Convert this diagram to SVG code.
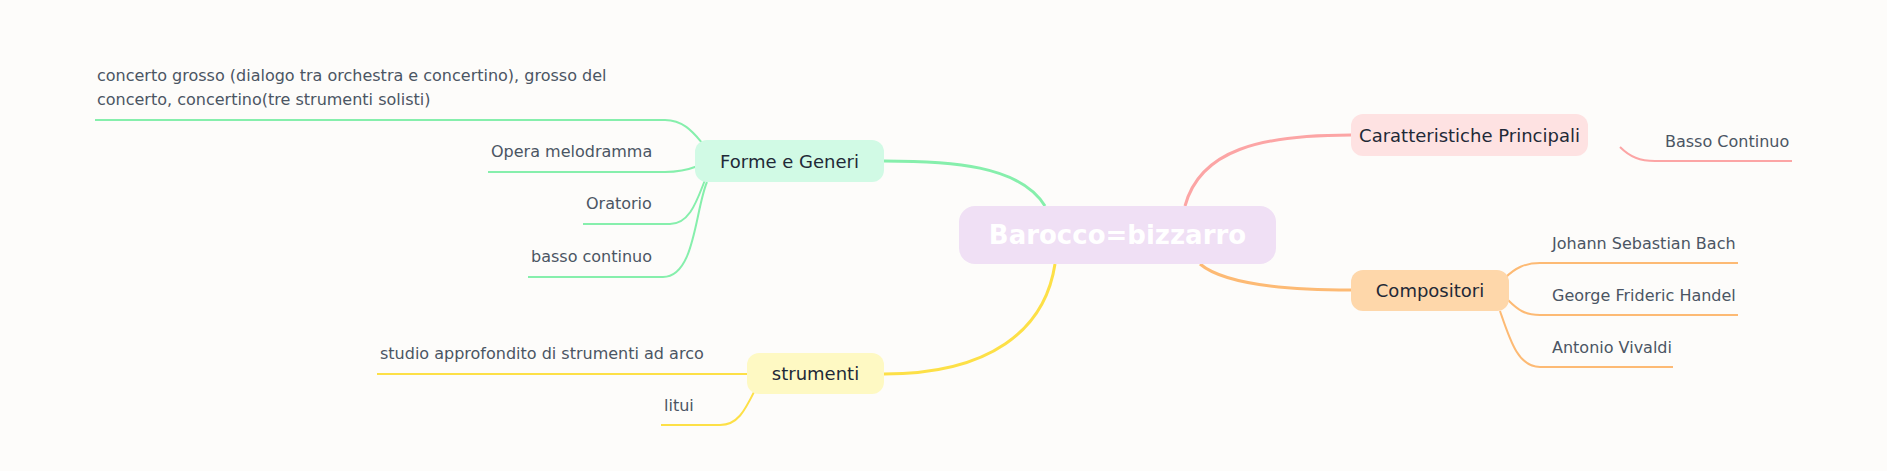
<svg xmlns="http://www.w3.org/2000/svg" width="1887" height="471" viewBox="0 0 1887 471">
<style>
.leaf{font-family:"DejaVu Sans",sans-serif;font-size:16px;fill:#4b5563}
.nt{font-family:"DejaVu Sans",sans-serif;font-size:18px;fill:#1f2937;text-anchor:middle}
.c{fill:none;stroke-width:2}
.g{stroke:#86efac}.r{stroke:#fca5a5}.o{stroke:#fdba74}.y{stroke:#fde047}
</style>
<rect width="1887" height="471" fill="#fdfcfa"/>
<g id="connectors">
<path class="c g" d="M1045 206 C1020 165 950 161 884 161" style="stroke-width:3"/>
<path class="c r" d="M1185 206 C1200 150 1260 135 1351 135" style="stroke-width:3"/>
<path class="c o" d="M1200 264 C1225 285 1290 290 1351 290" style="stroke-width:3"/>
<path class="c y" d="M1055 264 C1045 330 990 374 884 374" style="stroke-width:3"/>
<path class="c g" d="M95 120 H665 C685 120 695 135 704 145"/>
<path class="c g" d="M488 172 H665 C680 172 690 169 698 166"/>
<path class="c g" d="M583 224 H670 C690 224 697 200 705 180"/>
<path class="c g" d="M528 277 H663 C695 277 695 210 707 182"/>
<path class="c r" d="M1620 147 C1630 157 1640 161 1655 161 H1792"/>
<path class="c o" d="M1505 278 C1515 268 1525 263 1540 263 H1738"/>
<path class="c o" d="M1508 300 C1518 310 1525 315 1540 315 H1738"/>
<path class="c o" d="M1500 311 C1510 340 1518 367 1540 367 H1673"/>
<path class="c y" d="M377 374 H747"/>
<path class="c y" d="M661 425 H720 C738 425 745 410 755 390"/>
</g>
<g id="central"><rect x="959" y="206" width="317" height="58" rx="16" fill="#f0e0f5"/><text x="1117.5" y="244" text-anchor="middle" font-family="DejaVu Sans,sans-serif" font-size="26" font-weight="bold" fill="#fff">Barocco=bizzarro</text></g>
<g id="forme"><rect x="695" y="140" width="189" height="42" rx="12" fill="#d1fae5"/><text class="nt" x="789.5" y="168">Forme e Generi</text></g>
<g id="caratt"><rect x="1351" y="114" width="237" height="42" rx="12" fill="#fee2e2"/><text class="nt" x="1469.5" y="142">Caratteristiche Principali</text></g>
<g id="compositori"><rect x="1351" y="270" width="158" height="41" rx="12" fill="#fed7aa"/><text class="nt" x="1430" y="297">Compositori</text></g>
<g id="strumenti"><rect x="747" y="353" width="137" height="41" rx="12" fill="#fef9c3"/><text class="nt" x="815.5" y="380">strumenti</text></g>
<g id="leaves">
<text class="leaf" x="97" y="81">concerto grosso (dialogo tra orchestra e concertino), grosso del</text>
<text class="leaf" x="97" y="105">concerto, concertino(tre strumenti solisti)</text>
<text class="leaf" x="491" y="157">Opera melodramma</text>
<text class="leaf" x="586" y="209">Oratorio</text>
<text class="leaf" x="531" y="262">basso continuo</text>
<text class="leaf" x="1665" y="147">Basso Continuo</text>
<text class="leaf" x="1552" y="249">Johann Sebastian Bach</text>
<text class="leaf" x="1552" y="301">George Frideric Handel</text>
<text class="leaf" x="1552" y="353">Antonio Vivaldi</text>
<text class="leaf" x="380" y="359">studio approfondito di strumenti ad arco</text>
<text class="leaf" x="664" y="411">litui</text>
</g>
</svg>
